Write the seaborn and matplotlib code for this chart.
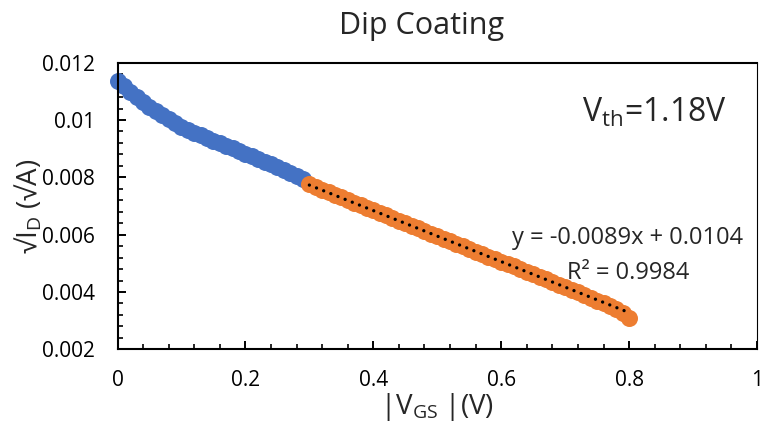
import matplotlib
matplotlib.use("Agg")
import matplotlib.pyplot as plt
import seaborn as sns
import pandas as pd
from matplotlib.ticker import MultipleLocator, FixedLocator, FixedFormatter

# ---------------- data ----------------
vgs_blue = [0.00, 0.01, 0.02, 0.03, 0.04, 0.05, 0.06, 0.07, 0.08, 0.09,
            0.10, 0.11, 0.12, 0.13, 0.14, 0.15, 0.16, 0.17, 0.18, 0.19,
            0.20, 0.21, 0.22, 0.23, 0.24, 0.25, 0.26, 0.27, 0.28, 0.29]
sqrt_id_blue = [0.01135, 0.01117, 0.01099, 0.01081, 0.01064, 0.01047, 0.01030, 0.01016, 0.01002, 0.00989,
                0.00977, 0.00966, 0.00956, 0.00946, 0.00937, 0.00928, 0.00919, 0.00910, 0.00901, 0.00892,
                0.00883, 0.00873, 0.00864, 0.00855, 0.00846, 0.00836, 0.00826, 0.00816, 0.00805, 0.00794]

vgs_orange = [0.30, 0.31, 0.32, 0.33, 0.34, 0.35, 0.36, 0.37, 0.38, 0.39,
              0.40, 0.41, 0.42, 0.43, 0.44, 0.45, 0.46, 0.47, 0.48, 0.49,
              0.50, 0.51, 0.52, 0.53, 0.54, 0.55, 0.56, 0.57, 0.58, 0.59,
              0.60, 0.61, 0.62, 0.63, 0.64, 0.65, 0.66, 0.67, 0.68, 0.69,
              0.70, 0.71, 0.72, 0.73, 0.74, 0.75, 0.76, 0.77, 0.78, 0.79, 0.80]
sqrt_id_orange = [0.00777, 0.00767, 0.00757, 0.00748, 0.00739, 0.00730, 0.00721, 0.00712, 0.00703, 0.00694,
                  0.00685, 0.00676, 0.00667, 0.00658, 0.00649, 0.00640, 0.00631, 0.00622, 0.00613, 0.00604,
                  0.00595, 0.00586, 0.00577, 0.00568, 0.00559, 0.00550, 0.00541, 0.00532, 0.00523, 0.00514,
                  0.00506, 0.00497, 0.00489, 0.00480, 0.00471, 0.00462, 0.00453, 0.00444, 0.00435, 0.00426,
                  0.00417, 0.00408, 0.00399, 0.00390, 0.00380, 0.00370, 0.00360, 0.00350, 0.00339, 0.00326, 0.00310]

fit_slope = -0.0089
fit_intercept = 0.0104
fit_x_range = [0.30, 0.80]

x_ticks = [0.0, 0.2, 0.4, 0.6, 0.8, 1.0]
x_tick_labels = ["0", "0.2", "0.4", "0.6", "0.8", "1"]
y_ticks = [0.002, 0.004, 0.006, 0.008, 0.010, 0.012]
y_tick_labels = ["0.002", "0.004", "0.006", "0.008", "0.01", "0.012"]

title_text = "Dip Coating"
vth_text = "V$_{th}$=1.18V"
eq_text = "y = -0.0089x + 0.0104"
r2_text = "R² = 0.9984"
xlabel_text = "|V$_{GS}$ |(V)"
ylabel_text = "√I$_{D}$ (√A)"

# ---------------- style ----------------
sns.set_style("white")
plt.rcParams["font.family"] = ["Open Sans", "DejaVu Sans"]
plt.rcParams["mathtext.default"] = "regular"
plt.rcParams["mathtext.fontset"] = "custom"
plt.rcParams["mathtext.rm"] = "Open Sans"
plt.rcParams["mathtext.it"] = "Open Sans:italic"
plt.rcParams["mathtext.fallback"] = "stixsans"

BLUE = "#4472C4"
ORANGE = "#ED7D31"

W, H = 763, 429
fig = plt.figure(figsize=(W / 100, H / 100), dpi=100)
L, R, T, B = 117.5, 757.0, 62.7, 349.3
ax = fig.add_axes([L / W, 1 - B / H, (R - L) / W, (B - T) / H])

df_blue = pd.DataFrame({"x": vgs_blue, "y": sqrt_id_blue})
df_orange = pd.DataFrame({"x": vgs_orange, "y": sqrt_id_orange})

sns.scatterplot(data=df_blue, x="x", y="y", color=BLUE, s=150, linewidth=0,
                ax=ax, zorder=2, clip_on=False, legend=False)
sns.scatterplot(data=df_orange, x="x", y="y", color=ORANGE, s=150, linewidth=0,
                ax=ax, zorder=3, clip_on=False, legend=False)

fit_y = [fit_slope * v + fit_intercept for v in fit_x_range]
ax.plot(fit_x_range, fit_y, color="black", lw=2.4, linestyle=(0, (0.01, 2.3)),
        dash_capstyle="round", zorder=4)

ax.set_xlim(0, 1)
ax.set_ylim(0.002, 0.012)
ax.xaxis.set_major_locator(FixedLocator(x_ticks))
ax.xaxis.set_major_formatter(FixedFormatter(x_tick_labels))
ax.yaxis.set_major_locator(FixedLocator(y_ticks))
ax.yaxis.set_major_formatter(FixedFormatter(y_tick_labels))
ax.xaxis.set_minor_locator(MultipleLocator(0.04))
ax.yaxis.set_minor_locator(MultipleLocator(0.0004))

ax.tick_params(which="both", direction="in", top=False, right=False,
               bottom=True, left=True, colors="black", labelsize=15)
ax.tick_params(which="major", length=5.5, width=1.4)
ax.tick_params(which="minor", length=3.5, width=1.2)
ax.tick_params(axis="x", which="major", pad=15)
ax.tick_params(axis="y", which="major", pad=16)

for side in ["left", "bottom", "top"]:
    ax.spines[side].set_linewidth(1.5)
    ax.spines[side].set_color("black")
ax.spines["right"].set_linewidth(0.8)
ax.spines["right"].set_color("black")

ax.set_xlabel(xlabel_text, fontsize=20, va="top")
ax.xaxis.set_label_coords(0.5, (B - 391) / (B - T))
ax.set_ylabel(ylabel_text, fontsize=20)
ax.yaxis.set_label_coords((45 - L) / (R - L), 0.5)

fig.text(422 / W, 1 - 34 / H, title_text, fontsize=22, ha="center", va="baseline")

ax.text((727 - L) / (R - L), (B - 121.7) / (B - T), vth_text, fontsize=23,
        ha="right", va="baseline", transform=ax.transAxes)
ax.text((628 - L) / (R - L), (B - 244) / (B - T), eq_text, fontsize=17,
        ha="center", va="baseline", transform=ax.transAxes)
ax.text((628 - L) / (R - L), (B - 279) / (B - T), r2_text, fontsize=17,
        ha="center", va="baseline", transform=ax.transAxes)

fig.savefig("out.png", dpi=100)
